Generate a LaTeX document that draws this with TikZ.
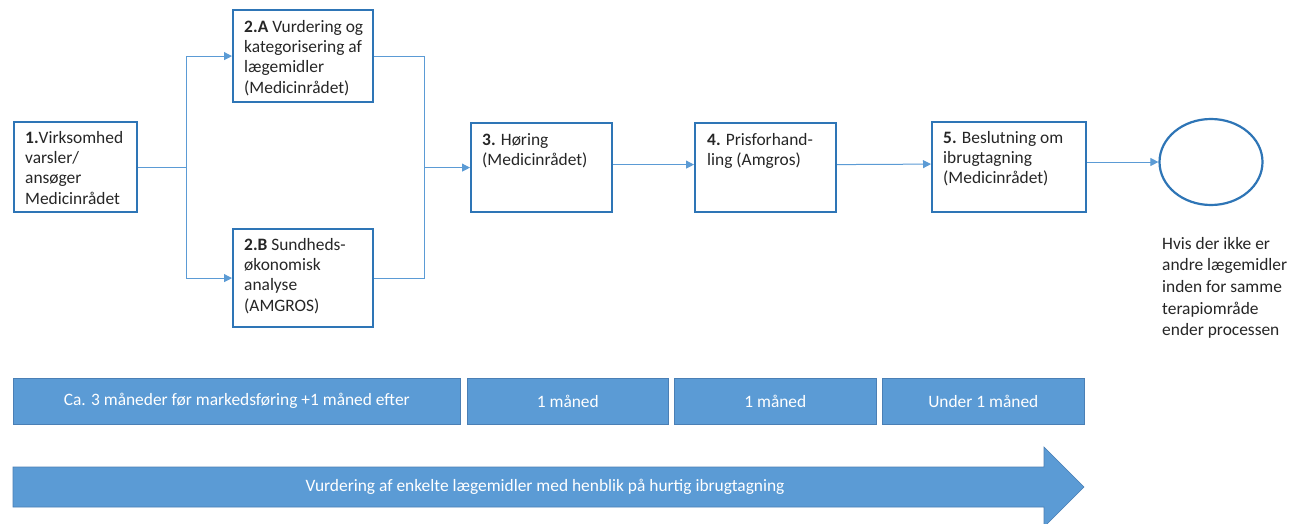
\documentclass[tikz,border=0pt]{standalone}
\usepackage{fontspec}
\setmainfont{Carlito}
\usetikzlibrary{arrows.meta,shapes.geometric}
\definecolor{boxblue}{HTML}{2E75B6}
\definecolor{linkblue}{HTML}{5B9BD5}
\definecolor{barfill}{HTML}{5B9BD5}
\definecolor{barline}{HTML}{4A7FB5}
\definecolor{txtgray}{HTML}{262626}
\newcommand\fl{\rule{0pt}{14pt}}
\tikzset{
  stepbox/.style={draw=boxblue, line width=2.2pt, fill=white, anchor=north west, inner sep=0pt},
  txt/.style={anchor=north west, inner sep=0pt, align=left, text=txtgray, font={\fontsize{17.4}{20.3}\selectfont}},
  conn/.style={draw=linkblue, line width=1pt},
  connarr/.style={conn, -{Triangle[length=8pt,width=8pt]}},
  bar/.style={draw=barline, line width=0.6pt, fill=barfill, anchor=north west, inner sep=0pt},
  bartxt/.style={text=white, font={\fontsize{17.4}{20}\selectfont}, inner sep=0pt}
}
\begin{document}
\begin{tikzpicture}[x=1pt,y=-1pt]
\useasboundingbox[fill=white] (0,0) rectangle (1303,524);
% boxes
\node[stepbox, minimum width=123pt, minimum height=90pt] (b1) at (13,121) {};
\node[stepbox, minimum width=140pt, minimum height=92pt] (b2a) at (232,9) {};
\node[stepbox, minimum width=140pt, minimum height=98pt] (b2b) at (232,228) {};
\node[stepbox, minimum width=141pt, minimum height=89pt] (b3) at (470,122) {};
\node[stepbox, minimum width=141pt, minimum height=89pt] (b4) at (694,122) {};
\node[stepbox, minimum width=154pt, minimum height=90pt] (b5) at (931,121) {};
\node[draw=boxblue, line width=2.2pt, ellipse, minimum width=103pt, minimum height=86pt, inner sep=0pt] (end) at (1211,162) {};
% texts
\node[txt] (t1) at (25,129) {\fl\textbf{1.}Virksomhed\\varsler/\\ansøger\\Medicinrådet};
\node[txt] (t2a) at (244,18) {\fl\textbf{2.A} Vurdering og\\kategorisering af\\lægemidler\\(Medicinrådet)};
\node[txt] (t2b) at (244,236) {\fl\textbf{2.B} Sundheds-\\økonomisk\\analyse\\(AMGROS)};
\node[txt] (t3) at (482,131) {\fl\textbf{3.} Høring\\(Medicinrådet)};
\node[txt] (t4) at (707,131) {\fl\textbf{4.} Prisforhand-\\ling (Amgros)};
\node[txt] (t5) at (943,129) {\fl\textbf{5.} Beslutning om\\ibrugtagning\\(Medicinrådet)};
\node[txt, font={\fontsize{17.4}{21.6}\selectfont}] (tend) at (1162,235) {\fl Hvis der ikke er\\andre lægemidler\\inden for samme\\terapiområde\\ender processen};
% connectors
\draw[conn] (b1.east) -- ++(48,0) coordinate (j1);
\draw[conn] (j1 |- b2a.west) -- (j1 |- b2b.west);
\draw[connarr] (j1 |- b2a.west) -- (b2a.west);
\draw[connarr] (j1 |- b2b.west) -- (b2b.west);
\draw[conn] (b2a.east) -- ++(50,0) coordinate (j2) -- (j2 |- b2b.east) -- (b2b.east);
\draw[connarr] (j2 |- b3.west) -- (b3.west);
\draw[connarr] ([yshift=3pt]b3.east) -- ([yshift=3pt]b4.west);
\draw[connarr] ([yshift=3pt]b4.east) -- ([yshift=3pt]b5.west);
\draw[connarr] (end.west -| b5.east) -- (end.west);
% bars
\node[bar, minimum width=447pt, minimum height=46pt] (p1) at (13,378) {};
\node[bartxt] (pt1) at (p1.center) {Ca. 3 måneder før markedsføring +1 måned efter};
\node[bar, minimum width=201pt, minimum height=46pt] (p2) at (467,378) {};
\node[bartxt] (pt2) at (p2.center) {1 måned};
\node[bar, minimum width=202pt, minimum height=46pt] (p3) at (674,378) {};
\node[bartxt] (pt3) at (p3.center) {1 måned};
\node[bar, minimum width=202pt, minimum height=46pt] (p4) at (882,378) {};
\node[bartxt] (pt4) at (p4.center) {Under 1 måned};
% big arrow
\draw[draw=barline, line width=0.6pt, fill=barfill] (13,467) -- (1044,467) -- (1044,447) -- (1084,487) -- (1044,527) -- (1044,507) -- (13,507) -- cycle;
\node[bartxt] (at) at (545,487) {Vurdering af enkelte lægemidler med henblik på hurtig ibrugtagning};
\end{tikzpicture}
\end{document}
